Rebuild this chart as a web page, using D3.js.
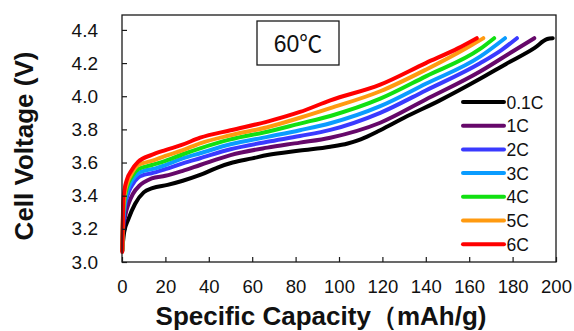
<!DOCTYPE html>
<html>
<head>
<meta charset="utf-8">
<script src="https://cdn.jsdelivr.net/npm/d3@7"></script>
<style>
html,body{margin:0;padding:0;background:#fff;}
svg{display:block;}
text{font-family:"Liberation Sans",Arial,sans-serif;}
</style>
</head>
<body>
<svg id="chart" width="574" height="331"></svg>
<script>
// ---- data (specific capacity mAh/g, cell voltage V) ----
const rateLabels = ["0.1C","1C","2C","3C","4C","5C","6C"];
const rateColors = ["#000000","#66086a","#3a3aff","#0a9cff","#11e011","#ff9a10","#ff0000"];
const xTicks = [0,20,40,60,80,100,120,140,160,180,200];
const yTicks = [3.0,3.2,3.4,3.6,3.8,4.0,4.2,4.4];
const tempLabel = "60℃";

const c01 = [[0.3,3.10],[1,3.18],[3,3.26],[6,3.35],[10,3.42],[14,3.445],[21,3.465],[28,3.49],[36,3.525],[44,3.57],[51,3.60],[60,3.625],[67,3.645],[82,3.672],[96,3.695],[104,3.715],[110,3.74],[119,3.795],[130,3.87],[146.5,3.975],[165,4.105],[177,4.195],[190,4.29],[196,4.345],[198.5,4.35]];
const c1  = [[0.2,3.08],[0.6,3.20],[1.5,3.28],[3,3.35],[5,3.41],[8,3.46],[10,3.48],[13.7,3.505],[20,3.52],[28,3.55],[36,3.585],[50,3.645],[67,3.69],[82,3.72],[96,3.75],[119,3.84],[140,3.98],[165,4.149],[180,4.27],[190,4.35]];
const c2  = [[0.2,3.07],[0.5,3.22],[1.2,3.32],[2.5,3.40],[4.5,3.46],[7.5,3.51],[10,3.525],[13.7,3.535],[20,3.56],[28,3.595],[36,3.626],[50,3.68],[67,3.725],[82,3.76],[96,3.797],[119,3.90],[140,4.035],[165,4.199],[175,4.28],[182,4.35]];
const c3  = [[0.2,3.07],[0.5,3.25],[1.2,3.35],[2.5,3.43],[4.5,3.49],[7.5,3.535],[10,3.55],[13.7,3.56],[20,3.585],[28,3.625],[36,3.656],[50,3.71],[67,3.755],[82,3.795],[96,3.837],[119,3.94],[140,4.075],[165,4.239],[176.5,4.35]];
const c4  = [[0.2,3.07],[0.5,3.28],[1.2,3.38],[2.5,3.46],[4.5,3.515],[7.5,3.56],[13.7,3.585],[20,3.61],[28,3.65],[36,3.686],[50,3.74],[67,3.786],[82,3.835],[96,3.881],[119,3.985],[140,4.12],[165,4.285],[171.5,4.35]];
const c5  = [[0.2,3.07],[0.5,3.30],[1.2,3.41],[2.5,3.48],[4.5,3.535],[7.5,3.585],[13.7,3.61],[20,3.64],[28,3.675],[36,3.716],[50,3.765],[67,3.813],[82,3.87],[96,3.928],[119,4.03],[140,4.16],[160,4.30],[166.5,4.35]];
const c6  = [[0.1,3.06],[0.3,3.20],[0.6,3.37],[1.2,3.44],[2.2,3.495],[4.5,3.555],[7.5,3.605],[13.7,3.646],[20,3.675],[27.5,3.706],[36,3.75],[50,3.795],[67,3.847],[82,3.905],[96,3.975],[119,4.07],[140,4.20],[155,4.29],[163.5,4.35]];
const seriesData = [c01,c1,c2,c3,c4,c5,c6];

// ---- layout ----
const svg = d3.select("#chart");
const x = d3.scaleLinear().domain([0,200]).range([122,556]);
const y = d3.scaleLinear().domain([3.0,4.49]).range([262,15]);

// curves
const line = d3.line().x(d=>x(d[0])).y(d=>y(d[1])).curve(d3.curveMonotoneX);
svg.append("g").selectAll("path").data(seriesData).join("path")
  .attr("d", line)
  .attr("fill","none")
  .attr("stroke",(d,i)=>rateColors[i])
  .attr("stroke-width",4)
  .attr("stroke-linejoin","round")
  .attr("stroke-linecap","round");

// frame
svg.append("rect").attr("x",x(0)).attr("y",y(4.49))
  .attr("width",x(200)-x(0)).attr("height",y(3.0)-y(4.49))
  .attr("fill","none").attr("stroke","#1a1a1a").attr("stroke-width",1.3);

// axes with inward ticks
const yAxis = d3.axisLeft(y).tickValues(yTicks).tickFormat(d3.format(".1f")).tickSizeInner(-5).tickSizeOuter(0).tickPadding(24);
const gy = svg.append("g").attr("transform",`translate(${x(0)},0)`).call(yAxis);
gy.select(".domain").remove();
gy.selectAll(".tick line").attr("stroke","#1a1a1a").attr("stroke-width",1.2);
gy.selectAll("text").attr("font-size",19).attr("fill","#111").style("font-family","Liberation Sans, Arial, sans-serif");

const xAxis = d3.axisBottom(x).tickValues(xTicks).tickFormat(d3.format("d")).tickSizeInner(-5).tickSizeOuter(0).tickPadding(18);
const gx = svg.append("g").attr("transform",`translate(0,${y(3.0)})`).call(xAxis);
gx.select(".domain").remove();
gx.selectAll(".tick line").attr("stroke","#1a1a1a").attr("stroke-width",1.2);
gx.selectAll("text").attr("font-size",18.5).attr("fill","#111").style("font-family","Liberation Sans, Arial, sans-serif");

// axis titles
svg.append("text").attr("transform","translate(33,146) rotate(-90)")
  .attr("text-anchor","middle").attr("font-size",26).attr("font-weight","bold").attr("fill","#111")
  .text("Cell Voltage (V)");
svg.append("text").attr("x",321).attr("y",324.5)
  .attr("text-anchor","middle").attr("font-size",26).attr("font-weight","bold").attr("fill","#111")
  .text("Specific Capacity（mAh/g)");

// temperature box
svg.append("rect").attr("x",257).attr("y",21).attr("width",82).attr("height",44)
  .attr("fill","#fff").attr("stroke","#1a1a1a").attr("stroke-width",1.3);
svg.append("text").attr("x",298).attr("y",51.5).attr("text-anchor","middle")
  .attr("font-size",23).attr("fill","#111")
  .style("font-family","Liberation Sans, Arial, 'Noto Sans CJK JP', sans-serif")
  .text(tempLabel);

// legend
const lg = svg.append("g");
rateLabels.forEach((lab,i)=>{
  const yy = 102 + i*23.7;
  lg.append("line").attr("x1",463).attr("x2",504).attr("y1",yy).attr("y2",yy)
    .attr("stroke",rateColors[i]).attr("stroke-width",4).attr("stroke-linecap","round");
  lg.append("text").attr("x",506.5).attr("y",yy+6.5).attr("font-size",17.5).attr("fill","#111").text(lab);
});
</script>
</body>
</html>
